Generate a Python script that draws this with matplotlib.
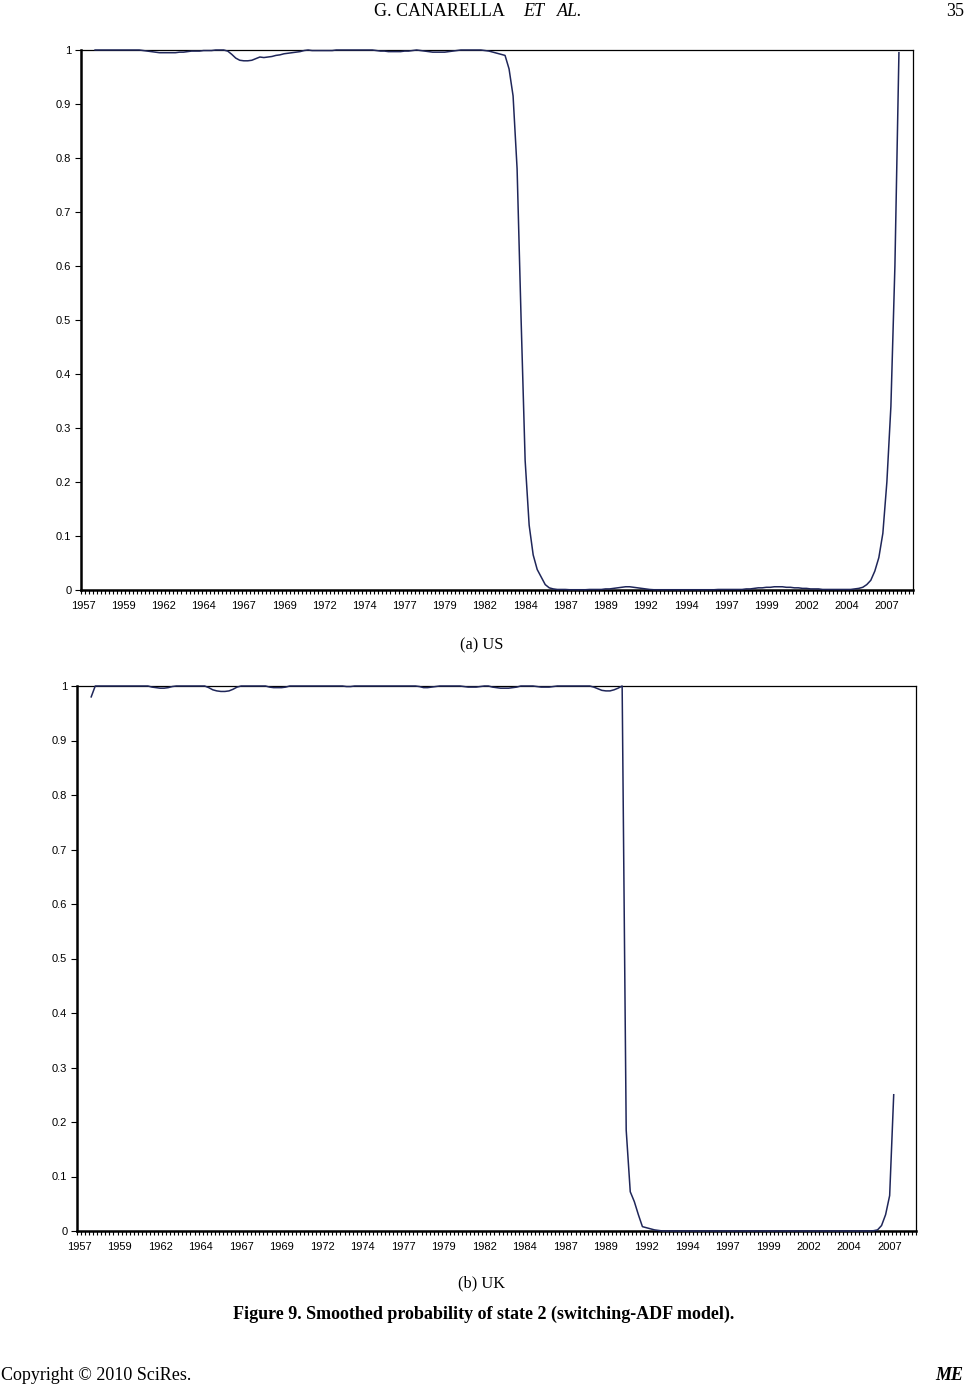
import numpy as np
import matplotlib
matplotlib.use('Agg')
import matplotlib.pyplot as plt
from matplotlib.ticker import MultipleLocator

plt.rcParams['font.family'] = 'Liberation Sans'

# quarterly categories 1957Q1 .. 2008Q3, labels every 10 quarters
n_quarters = 207
year_labels = ['1957', '1959', '1962', '1964', '1967', '1969', '1972', '1974', '1977',
               '1979', '1982', '1984', '1987', '1989', '1992', '1994', '1997', '1999',
               '2002', '2004', '2007']

# smoothed probability of state 2, US (first value = 1957Q4)
us_start = 3
us_prob = [
    1.0,
    1.0, 1.0, 1.0, 1.0,            # 1958
    1.0, 1.0, 1.0, 1.0,            # 1959
    1.0, 1.0, 1.0, 0.999,          # 1960
    0.998, 0.997, 0.996, 0.995,    # 1961
    0.995, 0.995, 0.995, 0.995,    # 1962
    0.996, 0.996, 0.997, 0.998,    # 1963
    0.998, 0.998, 0.999, 0.999,    # 1964
    0.999, 1.0, 1.0, 1.0,          # 1965
    0.998, 0.992, 0.985, 0.981,    # 1966
    0.980, 0.980, 0.981, 0.984,    # 1967
    0.987, 0.986, 0.987, 0.988,    # 1968
    0.990, 0.991, 0.993, 0.994,    # 1969
    0.995, 0.996, 0.997, 0.999,    # 1970
    1.0, 0.999, 0.999, 0.999,      # 1971
    0.999, 0.999, 0.999, 1.0,      # 1972
    1.0, 1.0, 1.0, 1.0,            # 1973
    1.0, 1.0, 1.0, 1.0,            # 1974
    1.0, 0.999, 0.998, 0.998,      # 1975
    0.997, 0.997, 0.997, 0.997,    # 1976
    0.998, 0.998, 0.999, 1.0,      # 1977
    0.999, 0.998, 0.997, 0.996,    # 1978
    0.996, 0.996, 0.996, 0.997,    # 1979
    0.998, 0.999, 1.0, 1.0,        # 1980
    1.0, 1.0, 1.0, 1.0,            # 1981
    0.999, 0.998, 0.996, 0.994,    # 1982
    0.992, 0.990, 0.965, 0.915,    # 1983
    0.78, 0.50, 0.24, 0.12,        # 1984
    0.065, 0.038, 0.024, 0.010,    # 1985
    0.004, 0.002, 0.001, 0.001,    # 1986
    0.001, 0.0005, 0.0005, 0.0005, # 1987
    0.0005, 0.0005, 0.001, 0.001,  # 1988
    0.001, 0.001, 0.002, 0.002,    # 1989
    0.003, 0.004, 0.005, 0.006,    # 1990
    0.006, 0.005, 0.004, 0.003,    # 1991
    0.002, 0.001, 0.0005, 0.0005,  # 1992
    0.0005, 0.0005, 0.0005, 0.0005,  # 1993
    0.0005, 0.0005, 0.0005, 0.0005,  # 1994
    0.0005, 0.0005, 0.0005, 0.0005,  # 1995
    0.0005, 0.0005, 0.001, 0.001,  # 1996
    0.001, 0.001, 0.001, 0.001,    # 1997
    0.001, 0.002, 0.002, 0.003,    # 1998
    0.004, 0.004, 0.005, 0.005,    # 1999
    0.006, 0.006, 0.006, 0.005,    # 2000
    0.005, 0.004, 0.004, 0.003,    # 2001
    0.003, 0.002, 0.002, 0.002,    # 2002
    0.001, 0.001, 0.001, 0.001,    # 2003
    0.001, 0.001, 0.001, 0.001,    # 2004
    0.002, 0.003, 0.005, 0.010,    # 2005
    0.018, 0.035, 0.06, 0.105,     # 2006
    0.20, 0.34, 0.60, 0.995,       # 2007
]

# smoothed probability of state 2, UK (first value = 1957Q4)
uk_start = 3
uk_prob = [
    0.98,
    1.0, 1.0, 1.0, 1.0,            # 1958
    1.0, 1.0, 1.0, 1.0,            # 1959
    1.0, 1.0, 1.0, 1.0,            # 1960
    1.0, 1.0, 0.998, 0.997,        # 1961
    0.996, 0.996, 0.997, 0.999,    # 1962
    1.0, 1.0, 1.0, 1.0,            # 1963
    1.0, 1.0, 1.0, 1.0,            # 1964
    0.997, 0.993, 0.991, 0.990,    # 1965
    0.990, 0.991, 0.994, 0.998,    # 1966
    1.0, 1.0, 1.0, 1.0,            # 1967
    1.0, 1.0, 1.0, 0.998,          # 1968
    0.997, 0.997, 0.997, 0.998,    # 1969
    1.0, 1.0, 1.0, 1.0,            # 1970
    1.0, 1.0, 1.0, 1.0,            # 1971
    1.0, 1.0, 1.0, 1.0,            # 1972
    1.0, 1.0, 0.999, 0.999,        # 1973
    1.0, 1.0, 1.0, 1.0,            # 1974
    1.0, 1.0, 1.0, 1.0,            # 1975
    1.0, 1.0, 1.0, 1.0,            # 1976
    1.0, 1.0, 1.0, 1.0,            # 1977
    0.999, 0.997, 0.997, 0.998,    # 1978
    0.999, 1.0, 1.0, 1.0,          # 1979
    1.0, 1.0, 1.0, 0.999,          # 1980
    0.998, 0.998, 0.998, 0.999,    # 1981
    1.0, 1.0, 0.998, 0.997,        # 1982
    0.996, 0.996, 0.996, 0.997,    # 1983
    0.998, 1.0, 1.0, 1.0,          # 1984
    1.0, 0.999, 0.998, 0.998,      # 1985
    0.998, 0.999, 1.0, 1.0,        # 1986
    1.0, 1.0, 1.0, 1.0,            # 1987
    1.0, 1.0, 1.0, 0.998,          # 1988
    0.995, 0.992, 0.991, 0.991,    # 1989
    0.993, 0.996, 1.0, 0.185,      # 1990
    0.072, 0.054, 0.030, 0.008,    # 1991
    0.006, 0.004, 0.002, 0.001,    # 1992
    0.0, 0.0, 0.0, 0.0,            # 1993
    0.0, 0.0, 0.0, 0.0,            # 1994
    0.0, 0.0, 0.0, 0.0,            # 1995
    0.0, 0.0, 0.0, 0.0,            # 1996
    0.0, 0.0, 0.0, 0.0,            # 1997
    0.0, 0.0, 0.0, 0.0,            # 1998
    0.0, 0.0, 0.0, 0.0,            # 1999
    0.0, 0.0, 0.0, 0.0,            # 2000
    0.0, 0.0, 0.0, 0.0,            # 2001
    0.0, 0.0, 0.0, 0.0,            # 2002
    0.0, 0.0, 0.0, 0.0,            # 2003
    0.0, 0.0, 0.0, 0.0,            # 2004
    0.0, 0.0, 0.0, 0.0,            # 2005
    0.0005, 0.002, 0.010, 0.030,   # 2006
    0.065, 0.25,                   # 2007
]

line_color = '#1f2659'
tick_fs = 8


def draw_panel(ax, start, values):
    x = np.arange(start, start + len(values))
    ax.plot(x, values, color=line_color, lw=1.1, zorder=3, clip_on=False)

    ax.set_xlim(-0.5, n_quarters - 0.5)
    ax.set_ylim(0, 1)

    # category labels every 10 quarters, tick marks on every category boundary
    ax.set_xticks(np.arange(0, 10 * len(year_labels), 10))
    ax.set_xticklabels(year_labels, fontsize=tick_fs)
    ax.xaxis.set_minor_locator(MultipleLocator(1, offset=0.5))
    ax.tick_params(axis='x', which='major', length=0, pad=8)
    ax.tick_params(axis='x', which='minor', length=3, width=0.8, direction='out')

    ax.set_yticks(np.arange(0, 1.01, 0.1))
    ax.set_yticklabels(['0', '0.1', '0.2', '0.3', '0.4', '0.5', '0.6', '0.7', '0.8', '0.9', '1'],
                       fontsize=tick_fs)
    ax.tick_params(axis='y', length=4, width=0.8, pad=3)

    for side in ['left', 'bottom']:
        ax.spines[side].set_linewidth(1.8)
    for side in ['top', 'right']:
        ax.spines[side].set_linewidth(0.9)


fig = plt.figure(figsize=(9.65, 13.86), dpi=100)

ax1 = fig.add_axes([81 / 965, 1 - 590 / 1386, 832 / 965, 540 / 1386])
draw_panel(ax1, us_start, us_prob)

ax2 = fig.add_axes([77 / 965, 1 - 1231 / 1386, 839 / 965, 545 / 1386])
draw_panel(ax2, uk_start, uk_prob)

serif = 'Liberation Serif'
fig.text(374 / 965, 1 - 11 / 1386, 'G. CANARELLA', family=serif, fontsize=13,
         ha='left', va='center')
fig.text(523 / 965, 1 - 11 / 1386, 'ET', family=serif, fontsize=13, style='italic',
         ha='left', va='center')
fig.text(557 / 965, 1 - 11 / 1386, 'AL.', family=serif, fontsize=13, style='italic',
         ha='left', va='center')
fig.text(964 / 965, 1 - 11 / 1386, '35', family=serif, fontsize=13, ha='right', va='center')

fig.text(482 / 965, 1 - 645 / 1386, '(a) US', family=serif, fontsize=11.8, ha='center', va='center')
fig.text(482 / 965, 1 - 1283 / 1386, '(b) UK', family=serif, fontsize=11.8, ha='center', va='center')
fig.text(484 / 965, 1 - 1314 / 1386, 'Figure 9. Smoothed probability of state 2 (switching-ADF model).',
         family=serif, fontsize=13, weight='bold', ha='center', va='center')

fig.text(1 / 965, 1 - 1376 / 1386, 'Copyright \u00a9 2010 SciRes.', family=serif, fontsize=13,
         ha='left', va='center')
fig.text(963 / 965, 1 - 1376 / 1386, 'ME', family=serif, fontsize=13, weight='bold',
         style='italic', ha='right', va='center')

fig.savefig('out.png', dpi=100)
